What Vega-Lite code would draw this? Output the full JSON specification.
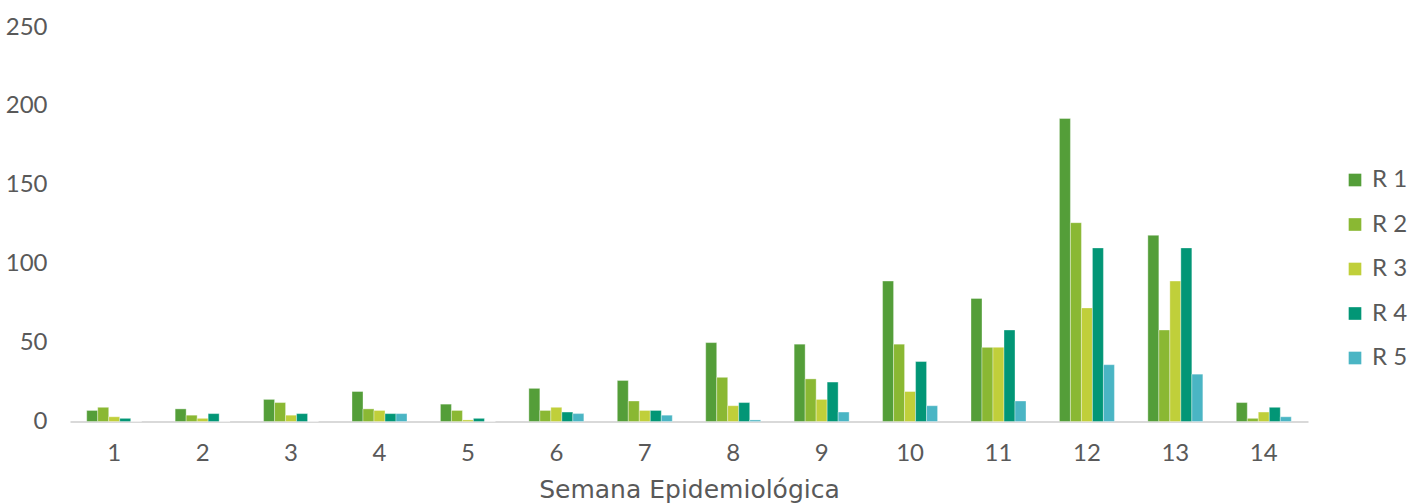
{
  "$schema": "https://vega.github.io/schema/vega-lite/v6.json",
  "width": 1238,
  "height": 394.5,
  "autosize": "none",
  "padding": {"left": 70, "top": 27, "right": 109, "bottom": 82.5},
  "background": "white",
  "config": {"font": "Lato", "view": {"stroke": null}},
  "data": {
    "values": [
      {"semana": 1, "region": "R 1", "casos": 7},
      {"semana": 1, "region": "R 2", "casos": 9},
      {"semana": 1, "region": "R 3", "casos": 3},
      {"semana": 1, "region": "R 4", "casos": 2},
      {"semana": 1, "region": "R 5", "casos": 0},
      {"semana": 2, "region": "R 1", "casos": 8},
      {"semana": 2, "region": "R 2", "casos": 4},
      {"semana": 2, "region": "R 3", "casos": 2},
      {"semana": 2, "region": "R 4", "casos": 5},
      {"semana": 2, "region": "R 5", "casos": 0},
      {"semana": 3, "region": "R 1", "casos": 14},
      {"semana": 3, "region": "R 2", "casos": 12},
      {"semana": 3, "region": "R 3", "casos": 4},
      {"semana": 3, "region": "R 4", "casos": 5},
      {"semana": 3, "region": "R 5", "casos": 0},
      {"semana": 4, "region": "R 1", "casos": 19},
      {"semana": 4, "region": "R 2", "casos": 8},
      {"semana": 4, "region": "R 3", "casos": 7},
      {"semana": 4, "region": "R 4", "casos": 5},
      {"semana": 4, "region": "R 5", "casos": 5},
      {"semana": 5, "region": "R 1", "casos": 11},
      {"semana": 5, "region": "R 2", "casos": 7},
      {"semana": 5, "region": "R 3", "casos": 1},
      {"semana": 5, "region": "R 4", "casos": 2},
      {"semana": 5, "region": "R 5", "casos": 0},
      {"semana": 6, "region": "R 1", "casos": 21},
      {"semana": 6, "region": "R 2", "casos": 7},
      {"semana": 6, "region": "R 3", "casos": 9},
      {"semana": 6, "region": "R 4", "casos": 6},
      {"semana": 6, "region": "R 5", "casos": 5},
      {"semana": 7, "region": "R 1", "casos": 26},
      {"semana": 7, "region": "R 2", "casos": 13},
      {"semana": 7, "region": "R 3", "casos": 7},
      {"semana": 7, "region": "R 4", "casos": 7},
      {"semana": 7, "region": "R 5", "casos": 4},
      {"semana": 8, "region": "R 1", "casos": 50},
      {"semana": 8, "region": "R 2", "casos": 28},
      {"semana": 8, "region": "R 3", "casos": 10},
      {"semana": 8, "region": "R 4", "casos": 12},
      {"semana": 8, "region": "R 5", "casos": 1},
      {"semana": 9, "region": "R 1", "casos": 49},
      {"semana": 9, "region": "R 2", "casos": 27},
      {"semana": 9, "region": "R 3", "casos": 14},
      {"semana": 9, "region": "R 4", "casos": 25},
      {"semana": 9, "region": "R 5", "casos": 6},
      {"semana": 10, "region": "R 1", "casos": 89},
      {"semana": 10, "region": "R 2", "casos": 49},
      {"semana": 10, "region": "R 3", "casos": 19},
      {"semana": 10, "region": "R 4", "casos": 38},
      {"semana": 10, "region": "R 5", "casos": 10},
      {"semana": 11, "region": "R 1", "casos": 78},
      {"semana": 11, "region": "R 2", "casos": 47},
      {"semana": 11, "region": "R 3", "casos": 47},
      {"semana": 11, "region": "R 4", "casos": 58},
      {"semana": 11, "region": "R 5", "casos": 13},
      {"semana": 12, "region": "R 1", "casos": 192},
      {"semana": 12, "region": "R 2", "casos": 126},
      {"semana": 12, "region": "R 3", "casos": 72},
      {"semana": 12, "region": "R 4", "casos": 110},
      {"semana": 12, "region": "R 5", "casos": 36},
      {"semana": 13, "region": "R 1", "casos": 118},
      {"semana": 13, "region": "R 2", "casos": 58},
      {"semana": 13, "region": "R 3", "casos": 89},
      {"semana": 13, "region": "R 4", "casos": 110},
      {"semana": 13, "region": "R 5", "casos": 30},
      {"semana": 14, "region": "R 1", "casos": 12},
      {"semana": 14, "region": "R 2", "casos": 2},
      {"semana": 14, "region": "R 3", "casos": 6},
      {"semana": 14, "region": "R 4", "casos": 9},
      {"semana": 14, "region": "R 5", "casos": 3}
    ]
  },
  "mark": {"type": "bar", "stroke": "white", "strokeWidth": 0.6, "strokeOpacity": 0.6},
  "encoding": {
    "x": {
      "field": "semana",
      "type": "ordinal",
      "sort": null,
      "scale": {"paddingInner": 0.378, "paddingOuter": 0.189},
      "axis": {
        "labelAngle": 0,
        "ticks": false,
        "grid": false,
        "domainColor": "#D9D9D9",
        "domainWidth": 2,
        "labelFontSize": 24,
        "labelColor": "#595959",
        "labelPadding": 20,
        "title": "Semana Epidemiológica",
        "titleFont": "DejaVu Sans",
        "titleFontSize": 25,
        "titleFontWeight": "normal",
        "titleColor": "#595959",
        "titleX": 619,
        "titleY": 75.5,
        "titleAlign": "center",
        "titleBaseline": "alphabetic"
      }
    },
    "xOffset": {"field": "region", "type": "nominal", "scale": {"paddingInner": 0, "paddingOuter": 0}},
    "y": {
      "field": "casos",
      "type": "quantitative",
      "scale": {"domain": [0, 250], "nice": false},
      "axis": {
        "values": [0, 50, 100, 150, 200, 250],
        "domain": false,
        "ticks": false,
        "grid": false,
        "labelFontSize": 24,
        "labelColor": "#595959",
        "labelPadding": 23,
        "title": null
      }
    },
    "color": {
      "field": "region",
      "type": "nominal",
      "scale": {
        "domain": ["R 1", "R 2", "R 3", "R 4", "R 5"],
        "range": ["#549E39", "#8AB833", "#C0CF3A", "#029676", "#4AB5C4"]
      },
      "legend": {
        "title": null,
        "orient": "none",
        "legendX": 1273,
        "legendY": 141,
        "padding": 0,
        "symbolType": "square",
        "symbolSize": 160,
        "symbolStrokeWidth": 0,
        "symbolOpacity": 1,
        "labelFontSize": 24,
        "labelColor": "#595959",
        "labelOffset": 5,
        "rowPadding": 20.5
      }
    }
  }
}
